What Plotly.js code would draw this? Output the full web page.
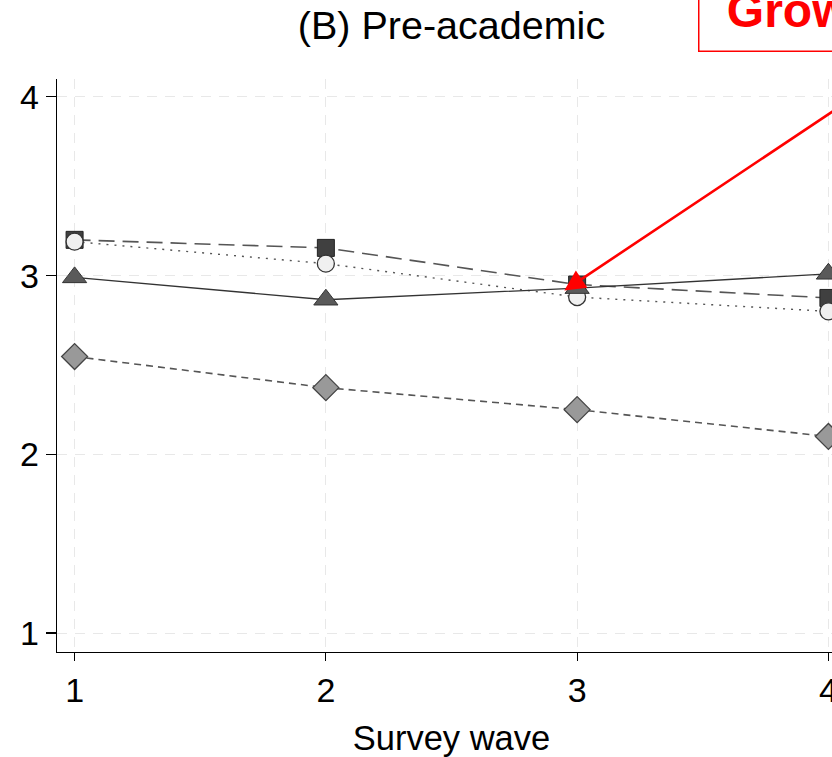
<!DOCTYPE html>
<html>
<head>
<meta charset="utf-8">
<script src="https://cdn.plot.ly/plotly-3.0.1.min.js"></script>
<style>
html, body { margin:0; padding:0; width:832px; height:757px; overflow:hidden; background:#fff; }
#chart { width:900px; height:757px; }
</style>
</head>
<body>
<div id="chart"></div>
<script>
// Data
const waves = [1, 2, 3, 4];
const tickLabels = ['1', '2', '3', '4'];
const squareSeries = [3.20, 3.155, 2.95, 2.875];
const circleSeries = [3.19, 3.067, 2.88, 2.80];
const triangleSeries = [2.99, 2.865, 2.93, 3.01];
const diamondSeries = [2.547, 2.373, 2.25, 2.10];

const FONT = 'Liberation Sans, Arial, Helvetica, sans-serif';

const traces = [
  {
    x: waves, y: squareSeries, type: 'scatter', mode: 'lines+markers', name: 'A',
    line: {color: '#555555', width: 1.6, dash: '16px,8px'},
    marker: {symbol: 'square', size: 17, color: '#404040', line: {color: '#222', width: 1}}
  },
  {
    x: waves, y: circleSeries, type: 'scatter', mode: 'lines+markers', name: 'B',
    line: {color: '#555555', width: 1.4, dash: '2px,6px'},
    marker: {symbol: 'circle', size: 17, color: '#f0f0f0', line: {color: '#333', width: 1.3}}
  },
  {
    x: waves, y: triangleSeries, type: 'scatter', mode: 'lines+markers', name: 'C',
    line: {color: '#333333', width: 1.3},
    marker: {symbol: 'triangle-up', size: 21, color: '#5a5a5a', line: {color: '#333', width: 1}}
  },
  {
    x: waves, y: diamondSeries, type: 'scatter', mode: 'lines+markers', name: 'D',
    line: {color: '#555555', width: 1.6, dash: '7px,5px'},
    marker: {symbol: 'diamond', size: 20, color: '#999999', line: {color: '#444', width: 1.3}}
  }
];

const layout = {
  width: 900, height: 757,
  margin: {l: 57, r: 54, t: 79, b: 105},
  paper_bgcolor: '#fff', plot_bgcolor: '#fff',
  showlegend: false,
  font: {family: FONT, color: '#000', size: 34},
  title: {
    text: '(B) Pre-academic',
    font: {family: FONT, size: 39.5, color: '#000'},
    xref: 'paper', x: 0.5, xanchor: 'center',
    yref: 'container', y: 0.967, yanchor: 'middle'
  },
  xaxis: {
    range: [0.93, 4.07],
    tickvals: waves, ticktext: tickLabels,
    showline: true, linecolor: '#000', linewidth: 1.3,
    ticks: 'outside', ticklen: 8, tickcolor: '#000', tickwidth: 1.2,
    showgrid: true, gridcolor: '#e8e8e8', gridwidth: 1, griddash: '10px,8px',
    zeroline: false,
    tickfont: {family: FONT, size: 34, color: '#000'},
    title: {text: 'Survey wave', font: {family: FONT, size: 34.5, color: '#000'}, standoff: 20}
  },
  yaxis: {
    range: [0.894, 4.10],
    tickvals: [1, 2, 3, 4], ticktext: ['1', '2', '3', '4'],
    showline: true, linecolor: '#000', linewidth: 1.3,
    ticks: 'outside', ticklen: 10, tickcolor: '#000', tickwidth: 1.2,
    showgrid: true, gridcolor: '#e8e8e8', gridwidth: 1, griddash: '10px,8px',
    zeroline: false,
    tickfont: {family: FONT, size: 34, color: '#000'}
  },
  annotations: [
    {
      text: '', x: 2.949, y: 2.916, xref: 'x', yref: 'y',
      ax: 4.37, ay: 4.25, axref: 'x', ayref: 'y',
      showarrow: true, arrowhead: 2, arrowsize: 1.6, arrowwidth: 2.6, arrowcolor: '#ff0000'
    },
    {
      text: '&nbsp;<b>Growth</b>', xref: 'x', yref: 'paper',
      x: 3.479, y: 1.047, xanchor: 'left', yanchor: 'bottom', align: 'left',
      showarrow: false, font: {family: FONT, size: 48, color: '#ff0000'},
      bgcolor: '#fff', bordercolor: '#ff0000', borderwidth: 1.5, borderpad: 14
    }
  ]
};

Plotly.newPlot('chart', traces, layout, {displayModeBar: false, staticPlot: true});
</script>
</body>
</html>
